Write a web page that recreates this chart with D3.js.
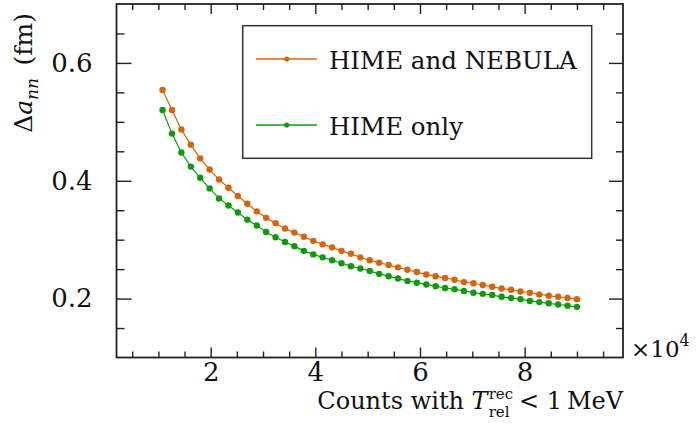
<!DOCTYPE html>
<html><head><meta charset="utf-8">
<script src="https://cdn.jsdelivr.net/npm/d3@7"></script>
<style>
body{margin:0;background:#fff;}
svg{display:block;}
text{font-family:"DejaVu Serif",serif;fill:#111;white-space:pre;}
</style></head>
<body><svg id="c" width="698" height="428"></svg>
<script>
// counts (in units of 10^4)
const counts = [1.08,1.26,1.44,1.62,1.80,1.98,2.16,2.34,2.52,2.70,2.88,3.06,3.24,3.42,3.60,3.78,3.96,4.14,4.32,4.50,4.68,4.86,5.04,5.22,5.40,5.58,5.76,5.94,6.12,6.30,6.48,6.66,6.84,7.02,7.20,7.38,7.56,7.74,7.92,8.10,8.28,8.46,8.64,8.82,9.00];
const himeNebula = [0.554,0.520,0.487,0.461,0.438,0.419,0.402,0.388,0.374,0.361,0.348,0.337,0.328,0.319,0.312,0.305,0.298,0.292,0.287,0.281,0.276,0.270,0.265,0.261,0.257,0.253,0.249,0.245,0.241,0.238,0.235,0.232,0.228,0.226,0.223,0.220,0.217,0.215,0.212,0.210,0.207,0.205,0.203,0.201,0.199];
const himeOnly = [0.520,0.480,0.448,0.424,0.405,0.387,0.370,0.358,0.346,0.334,0.324,0.313,0.304,0.296,0.289,0.281,0.275,0.270,0.265,0.260,0.255,0.251,0.247,0.242,0.238,0.234,0.230,0.227,0.224,0.221,0.218,0.216,0.213,0.210,0.208,0.206,0.203,0.201,0.199,0.196,0.194,0.192,0.190,0.188,0.186];
const seriesNames = ["HIME and NEBULA","HIME only"];
const xTicks = [2,4,6,8];
const yTicks = [0.2,0.4,0.6];
const xDomain = [0.2,9.88];
const yDomain = [0.1,0.7];

const colors = ["#d5640c","#10990f"];
const svg = d3.select("#c");
const L=116.5,R=623,T=4,B=357.5;
const x = d3.scaleLinear().domain(xDomain).range([L,R]);
const y = d3.scaleLinear().domain(yDomain).range([B,T]);

const axisCol="#222";
const fs=26;
const xMinor = d3.range(0.5,9.9,0.5).filter(v=>!xTicks.some(t=>Math.abs(t-v)<1e-6));
const yMinor = d3.range(0.15,0.7,0.05).filter(v=>!yTicks.some(t=>Math.abs(t-v)<1e-6));

const g = svg.append("g");
const bx = g.append("g").attr("transform",`translate(0,${B})`)
  .call(d3.axisBottom(x).tickValues(xTicks).tickSize(-10).tickPadding(5).tickFormat(d3.format("d")));
bx.call(s=>s.select(".domain").remove());
bx.selectAll("text").attr("font-size",fs).attr("font-family","DejaVu Serif").attr("fill","#111");
g.append("g").attr("transform",`translate(0,${B})`).call(d3.axisBottom(x).tickValues(xMinor).tickSize(-6).tickFormat(""))
  .call(s=>s.select(".domain").remove());
g.append("g").attr("transform",`translate(0,${T})`).call(d3.axisTop(x).tickValues(xTicks).tickSize(-10).tickFormat(""))
  .call(s=>s.select(".domain").remove());
g.append("g").attr("transform",`translate(0,${T})`).call(d3.axisTop(x).tickValues(xMinor).tickSize(-6).tickFormat(""))
  .call(s=>s.select(".domain").remove());
const ly = g.append("g").attr("transform",`translate(${L},0)`)
  .call(d3.axisLeft(y).tickValues(yTicks).tickSize(-15).tickPadding(24).tickFormat(d3.format(".1f")));
ly.call(s=>s.select(".domain").remove());
ly.selectAll("text").attr("font-size",fs).attr("font-family","DejaVu Serif").attr("fill","#111");
g.append("g").attr("transform",`translate(${L},0)`).call(d3.axisLeft(y).tickValues(yMinor).tickSize(-8).tickFormat(""))
  .call(s=>s.select(".domain").remove());
g.append("g").attr("transform",`translate(${R},0)`).call(d3.axisRight(y).tickValues(yTicks).tickSize(-14).tickFormat(""))
  .call(s=>s.select(".domain").remove());
g.append("g").attr("transform",`translate(${R},0)`).call(d3.axisRight(y).tickValues(yMinor).tickSize(-7).tickFormat(""))
  .call(s=>s.select(".domain").remove());
g.selectAll(".tick line").attr("stroke",axisCol).attr("stroke-width",1.4);
svg.append("rect").attr("x",L).attr("y",T).attr("width",R-L).attr("height",B-T)
  .attr("fill","none").attr("stroke",axisCol).attr("stroke-width",1.8);

const series = [himeNebula, himeOnly];
const line = d3.line().x((d,i)=>x(counts[i])).y(d=>y(d));
series.forEach((s,k)=>{
  svg.append("path").datum(s).attr("d",line).attr("fill","none").attr("stroke",colors[k]).attr("stroke-width",1.2);
  svg.append("g").selectAll("circle").data(s).join("circle")
    .attr("cx",(d,i)=>x(counts[i])).attr("cy",d=>y(d)).attr("r",3.2).attr("fill",colors[k]);
});

// legend
const lg = svg.append("g");
lg.append("rect").attr("x",242.7).attr("y",25.7).attr("width",349).attr("height",132.6)
  .attr("fill","#fff").attr("stroke","#333").attr("stroke-width",1.5);
const rows=[59,125];
seriesNames.forEach((n,k)=>{
  lg.append("line").attr("x1",256).attr("x2",317).attr("y1",rows[k]).attr("y2",rows[k])
    .attr("stroke",colors[k]).attr("stroke-width",1.3);
  lg.append("circle").attr("cx",286.7).attr("cy",rows[k]).attr("r",2.6).attr("fill",colors[k]);
  lg.append("text").attr("x",329).attr("y",rows[k]+10).attr("font-size",24.5).text(n);
});

// x title
const xt = svg.append("g");
let cx=0;
const tfs=24;
function piece(str,opts={}){
  const t = xt.append("text").attr("x",cx).attr("y",opts.dy||0).attr("font-size",opts.fs||tfs)
    .attr("font-style",opts.it?"italic":null).text(str);
  return t.node().getComputedTextLength();
}
cx += piece("Counts with\u00a0");
cx += piece("T",{it:true});
cx += 1;
const w1 = piece("rec",{fs:15,dy:-10});
const w2 = piece("rel",{fs:15,dy:8});
cx += Math.max(w1,w2)+6;
cx += piece("<\u00a01\u2009MeV");
xt.attr("transform",`translate(${R-cx},409)`);

// x multiplier
const xm = svg.append("text").attr("x",631).attr("y",357).attr("font-size",23);
xm.append("tspan").text("\u00d710");
xm.append("tspan").attr("font-size",16).attr("dy",-11).text("4");

// y title
const yt = svg.append("text").attr("transform","translate(32,13) rotate(-90)")
  .attr("text-anchor","end").attr("font-size",25);
yt.append("tspan").text("\u0394");
yt.append("tspan").attr("font-style","italic").text("a");
yt.append("tspan").attr("font-style","italic").attr("font-size",17).attr("dy",6).text("nn");
yt.append("tspan").attr("dy",-6).text("\u2002(fm)");
</script></body></html>
